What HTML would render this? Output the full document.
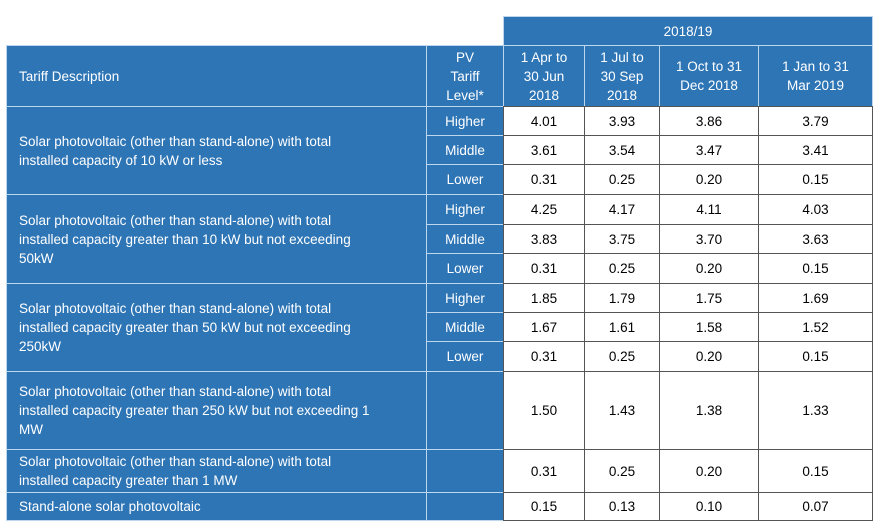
<!DOCTYPE html>
<html><head><meta charset="utf-8">
<style>
html,body{margin:0;padding:0;background:#fff;}
#wrap{position:relative;width:882px;height:530px;overflow:hidden;font-family:"Liberation Sans",sans-serif;}
.c{position:absolute;box-sizing:border-box;display:flex;align-items:center;font-size:13.5px;line-height:19px;}
.b{background:#2e75b6;color:#fff;border:1px solid #bdd7ee;}
.w{background:#fff;color:#000;border:1px solid #555;justify-content:center;text-align:center;}
.ctr{justify-content:center;text-align:center;}
.l{padding-left:12px;padding-right:6px;}
</style></head>
<body>
<div id="wrap"></div>
<script>
const colX = [6,426,503,584,659,758,872];
const rowY = [106,135,164,194,224,253,283,312,341,371,449,492,520];
const rowLevels = ["Higher","Middle","Lower","Higher","Middle","Lower","Higher","Middle","Lower","","",""];
const colApr = ["4.01","3.61","0.31","4.25","3.83","0.31","1.85","1.67","0.31","1.50","0.31","0.15"];
const colJul = ["3.93","3.54","0.25","4.17","3.75","0.25","1.79","1.61","0.25","1.43","0.25","0.13"];
const colOct = ["3.86","3.47","0.20","4.11","3.70","0.20","1.75","1.58","0.20","1.38","0.20","0.10"];
const colJan = ["3.79","3.41","0.15","4.03","3.63","0.15","1.69","1.52","0.15","1.33","0.15","0.07"];
const descriptions = [
 ["Solar photovoltaic (other than stand-alone) with total<br>installed capacity of 10 kW or less",0,3],
 ["Solar photovoltaic (other than stand-alone) with total<br>installed capacity greater than 10 kW but not exceeding<br>50kW",3,6],
 ["Solar photovoltaic (other than stand-alone) with total<br>installed capacity greater than 50 kW but not exceeding<br>250kW",6,9],
 ["Solar photovoltaic (other than stand-alone) with total<br>installed capacity greater than 250 kW but not exceeding 1<br>MW",9,10],
 ["Solar photovoltaic (other than stand-alone) with total<br>installed capacity greater than 1 MW",10,11],
 ["Stand-alone solar photovoltaic",11,12]
];
const periodHeaders = ["1 Apr to<br>30 Jun<br>2018","1 Jul to<br>30 Sep<br>2018","1 Oct to 31<br>Dec 2018","1 Jan to 31<br>Mar 2019"];
const wrap = document.getElementById('wrap');
function cell(x1,y1,x2,y2,cls,html,name){
  const d=document.createElement('div');
  d.className='c '+cls;
  d.style.left=x1+'px';d.style.top=y1+'px';
  d.style.width=(x2-x1+1)+'px';d.style.height=(y2-y1+1)+'px';
  d.innerHTML=html;
  
  
  wrap.appendChild(d);
  return d;
}
cell(colX[2],16,colX[6],45,'b ctr','2018/19','year-header');
cell(colX[0],45,colX[1],rowY[0],'b l','Tariff Description','tariff-description-header');
cell(colX[1],45,colX[2],rowY[0],'b ctr','PV<br>Tariff<br>Level*','pv-tariff-level-header');
periodHeaders.forEach((h,i)=>cell(colX[2+i],45,colX[3+i],rowY[0],'b ctr',h,'period-header'));
descriptions.forEach(d=>cell(colX[0],rowY[d[1]],colX[1],rowY[d[2]],'b l',d[0],'tariff-description'));
const cols=[colApr,colJul,colOct,colJan];
for(let r=0;r<rowLevels.length;r++){
  cell(colX[1],rowY[r],colX[2],rowY[r+1],'b ctr',rowLevels[r],'tariff-level');
  cols.forEach((c,i)=>cell(colX[2+i],rowY[r],colX[3+i],rowY[r+1],'w',c[r],'tariff-value'));
}
</script>
</body></html>
